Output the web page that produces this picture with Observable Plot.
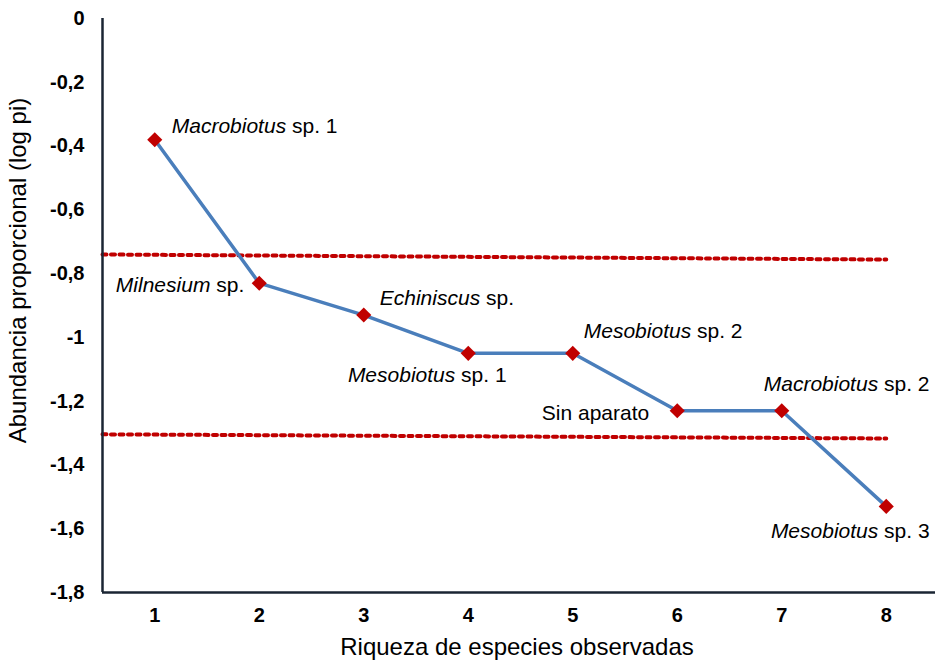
<!DOCTYPE html>
<html>
<head>
<meta charset="utf-8">
<script src="https://cdn.jsdelivr.net/npm/d3@7"></script>
<script src="https://cdn.jsdelivr.net/npm/@observablehq/plot@0.6"></script>
<style>
  body { margin: 0; background: #ffffff; }
  #chart svg { display: block; }
</style>
</head>
<body>
<div id="chart"></div>
<script>
// ---------- data ----------
const species = [1, 2, 3, 4, 5, 6, 7, 8];
const logPi = [-0.38, -0.83, -0.93, -1.05, -1.05, -1.23, -1.23, -1.53];
const taxa = ["Macrobiotus sp. 1", "Milnesium sp.", "Echiniscus sp.", "Mesobiotus sp. 1",
              "Mesobiotus sp. 2", "Sin aparato", "Macrobiotus sp. 2", "Mesobiotus sp. 3"];
const italicGenus = ["Macrobiotus", "Milnesium", "Echiniscus", "Mesobiotus",
                     "Mesobiotus", "", "Macrobiotus", "Mesobiotus"];
const xTicks = [1, 2, 3, 4, 5, 6, 7, 8];
const xTickLabels = ["1", "2", "3", "4", "5", "6", "7", "8"];
const yTicks = [0, -0.2, -0.4, -0.6, -0.8, -1, -1.2, -1.4, -1.6, -1.8];
const yTickLabels = ["0", "-0,2", "-0,4", "-0,6", "-0,8", "-1", "-1,2", "-1,4", "-1,6", "-1,8"];
const refX = [0.5, 8];
const refUpper = [-0.74, -0.756];
const refLower = [-1.304, -1.317];
const xTitle = "Riqueza de especies observadas";
const yTitle = "Abundancia proporcional (log pi)";
const xDomain = [0.5, 8.5];
const yDomain = [-1.8, 0];

// ---------- layout ----------
const labelPlacement = [
  {anchor: "start",  dx: 17,  dy: -13},
  {anchor: "end",    dx: -15, dy: 2},
  {anchor: "start",  dx: 16,  dy: -17},
  {anchor: "middle", dx: -41, dy: 22},
  {anchor: "start",  dx: 11,  dy: -22},
  {anchor: "end",    dx: -28, dy: 3},
  {anchor: "start",  dx: -18, dy: -26},
  {anchor: "middle", dx: -36, dy: 25}
];

const points = species.map((s, i) => ({x: s, y: logPi[i], label: taxa[i]}));
const upperLine = refX.map((x, i) => ({x, y: refUpper[i]}));
const lowerLine = refX.map((x, i) => ({x, y: refLower[i]}));

const RED = "#c00000";
const BLUE = "#4a7ebb";
const AXIS = "#1a2533";

const labelMarks = points.map((p, i) => Plot.text([p], {
  x: "x", y: "y", text: "label",
  textAnchor: labelPlacement[i].anchor,
  dx: labelPlacement[i].dx, dy: labelPlacement[i].dy,
  fontSize: 21, fontWeight: "normal", fill: "#000"
}));

const chart = Plot.plot({
  width: 935,
  height: 663,
  marginTop: 18,
  marginBottom: 71,
  marginLeft: 102,
  marginRight: 0,
  style: {fontFamily: "'Liberation Sans', Arial, sans-serif", background: "#ffffff", color: "#000"},
  x: {domain: xDomain, range: [102, 938]},
  y: {domain: yDomain},
  marks: [
    Plot.axisX(xTicks, {tickSize: 0, tickPadding: 15, tickFormat: d => xTickLabels[xTicks.indexOf(d)],
      label: null, fontSize: 20, fontWeight: "bold", fill: "#000"}),
    Plot.axisY(yTicks, {tickSize: 0, tickPadding: 18, tickFormat: d => yTickLabels[yTicks.indexOf(d)],
      label: null, fontSize: 20, fontWeight: "bold", fill: "#000"}),
    Plot.line(upperLine, {x: "x", y: "y", stroke: RED, strokeWidth: 4, strokeDasharray: "4 4.5"}),
    Plot.line(lowerLine, {x: "x", y: "y", stroke: RED, strokeWidth: 4, strokeDasharray: "4 4.5"}),
    Plot.ruleX([xDomain[0]], {stroke: AXIS, strokeWidth: 2.5}),
    Plot.ruleY([yDomain[0]], {stroke: AXIS, strokeWidth: 2.5}),
    Plot.line(points, {x: "x", y: "y", stroke: BLUE, strokeWidth: 3.5}),
    Plot.dot(points, {x: "x", y: "y", symbol: "diamond2", r: 6.8, fill: RED, stroke: "none"}),
    ...labelMarks,
    Plot.text([yTitle], {frameAnchor: "left", textAnchor: "middle", lineAnchor: "middle", dx: -84, dy: -35, rotate: -90, fontSize: 24, fontWeight: "normal", fill: "#000"}),
    Plot.text([xTitle], {frameAnchor: "bottom", textAnchor: "middle", lineAnchor: "middle", dx: -2, dy: 55, fontSize: 24, fontWeight: "normal", fill: "#000"})
  ]
});

// italicise the genus part of each label
const ns = "http://www.w3.org/2000/svg";
d3.select(chart).selectAll("text").each(function () {
  const full = this.textContent;
  const idx = taxa.indexOf(full);
  if (idx < 0) return;
  const genus = italicGenus[idx];
  if (!genus) return;
  const rest = full.slice(genus.length);
  while (this.firstChild) this.removeChild(this.firstChild);
  const t1 = document.createElementNS(ns, "tspan");
  t1.setAttribute("font-style", "italic");
  t1.textContent = genus;
  const t2 = document.createElementNS(ns, "tspan");
  t2.textContent = rest;
  this.appendChild(t1);
  this.appendChild(t2);
});

document.getElementById("chart").appendChild(chart);
</script>
</body>
</html>
